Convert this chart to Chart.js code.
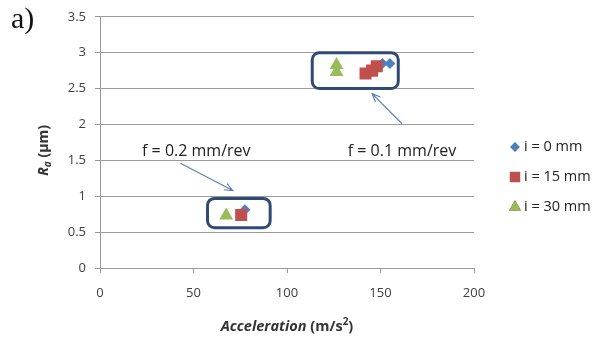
<!DOCTYPE html>
<html>
<head>
<meta charset="utf-8">
<script src="https://cdn.jsdelivr.net/npm/chart.js@4/dist/chart.umd.min.js"></script>
<style>
  html, body { margin: 0; padding: 0; background: #fff; }
  #wrap { width: 593px; height: 339px; position: relative; }
</style>
</head>
<body>
<div id="wrap"><canvas id="chart"></canvas></div>
<script>
// series values (acceleration m/s², Ra µm)
const seriesNames = ["i = 0 mm", "i = 15 mm", "i = 30 mm"];
const accel0 = [77.5, 151, 155];
const ra0 = [0.81, 2.85, 2.85];
const accel15 = [75.5, 142, 145.5, 148];
const ra15 = [0.74, 2.71, 2.75, 2.81];
const accel30 = [67.5, 126.5, 126.5];
const ra30 = [0.73, 2.83, 2.73];
const xTicks = [0, 50, 100, 150, 200];
const yTicks = [0, 0.5, 1, 1.5, 2, 2.5, 3, 3.5];

const FONT = "'Open Sans', 'Noto Sans', sans-serif";
const colors = ["#4f81bd", "#c0504d", "#9bbb59"];
const styles = ["rectRot", "rect", "triangle"];
const radii = [5.5, 8.5, 8];

function pts(xs, ys) { return xs.map((x, i) => ({ x: x, y: ys[i] })); }

// annotation boxes and arrows, in data units
const boxes = [
  { x0: 113.5, x1: 159.5, y0: 3.0, y1: 2.5 },
  { x0: 57.5, x1: 91, y0: 0.97, y1: 0.56 }
];
const notes = [
  { text: "f = 0.2 mm/rev", x: 51.5, y: 1.63, ax0: 43, ay0: 1.46, ax1: 71, ay1: 1.08 },
  { text: "f = 0.1 mm/rev", x: 161.5, y: 1.63, ax0: 161.5, ay0: 2.01, ax1: 145.5, ay1: 2.43 }
];

const annot = {
  id: "annot",
  afterDatasetsDraw(chart) {
    const ctx = chart.ctx, xs = chart.scales.x, ys = chart.scales.y;
    ctx.save();
    // rounded boxes
    ctx.strokeStyle = "#2f4b73";
    ctx.lineWidth = 3;
    boxes.forEach(b => {
      const l = xs.getPixelForValue(b.x0), r = xs.getPixelForValue(b.x1);
      const t = ys.getPixelForValue(b.y0), btm = ys.getPixelForValue(b.y1);
      ctx.beginPath();
      ctx.roundRect(l, t, r - l, btm - t, 7);
      ctx.stroke();
    });
    // labels + arrows
    notes.forEach(n => {
      ctx.fillStyle = "#222";
      ctx.font = "16px " + FONT;
      ctx.textAlign = "center";
      ctx.textBaseline = "middle";
      ctx.fillText(n.text, xs.getPixelForValue(n.x), ys.getPixelForValue(n.y));
      const x0 = xs.getPixelForValue(n.ax0), y0 = ys.getPixelForValue(n.ay0);
      const x1 = xs.getPixelForValue(n.ax1), y1 = ys.getPixelForValue(n.ay1);
      ctx.strokeStyle = "#5b82b8";
      ctx.lineWidth = 1.2;
      ctx.beginPath();
      ctx.moveTo(x0, y0); ctx.lineTo(x1, y1);
      const a = Math.atan2(y1 - y0, x1 - x0), h = 9;
      ctx.moveTo(x1 - h * Math.cos(a - 0.4), y1 - h * Math.sin(a - 0.4));
      ctx.lineTo(x1, y1);
      ctx.lineTo(x1 - h * Math.cos(a + 0.4), y1 - h * Math.sin(a + 0.4));
      ctx.stroke();
    });
    ctx.restore();
  },
  afterDraw(chart) {
    const ctx = chart.ctx, area = chart.chartArea;
    ctx.save();
    // panel letter
    ctx.fillStyle = "#111";
    ctx.font = "30px 'Liberation Serif', serif";
    ctx.textAlign = "left";
    ctx.textBaseline = "alphabetic";
    ctx.fillText("a)", 11, 28);

    // y title: R_a (µm)
    ctx.save();
    ctx.translate(44, (area.top + area.bottom) / 2 + 8);
    ctx.rotate(-Math.PI / 2);
    ctx.fillStyle = "#333";
    ctx.textBaseline = "middle";
    ctx.font = "italic bold 14px " + FONT;
    const w1 = ctx.measureText("R").width;
    ctx.font = "italic bold 10px " + FONT;
    const w2 = ctx.measureText("a").width;
    ctx.font = "bold 14px " + FONT;
    const w3 = ctx.measureText(" (\u00b5m)").width;
    let x = -(w1 + w2 + w3) / 2;
    ctx.font = "italic bold 14px " + FONT;
    ctx.fillText("R", x, 0); x += w1;
    ctx.font = "italic bold 10px " + FONT;
    ctx.fillText("a", x, 4); x += w2;
    ctx.font = "bold 14px " + FONT;
    ctx.fillText(" (\u00b5m)", x, 0);
    ctx.restore();

    // x title: Acceleration (m/s²)
    ctx.fillStyle = "#333";
    ctx.textBaseline = "middle";
    ctx.font = "italic bold 14.5px " + FONT;
    const t1 = ctx.measureText("Acceleration").width;
    ctx.font = "bold 14.5px " + FONT;
    const t2 = ctx.measureText(" (m/s").width;
    ctx.font = "bold 10px " + FONT;
    const t3 = ctx.measureText("2").width;
    ctx.font = "bold 14.5px " + FONT;
    const t4 = ctx.measureText(")").width;
    let xx = (area.left + area.right) / 2 - (t1 + t2 + t3 + t4) / 2;
    const yy = 327;
    ctx.font = "italic bold 14.5px " + FONT;
    ctx.fillText("Acceleration", xx, yy); xx += t1;
    ctx.font = "bold 14.5px " + FONT;
    ctx.fillText(" (m/s", xx, yy); xx += t2;
    ctx.font = "bold 10px " + FONT;
    ctx.fillText("2", xx, yy - 5); xx += t3;
    ctx.font = "bold 14.5px " + FONT;
    ctx.fillText(")", xx, yy);

    // legend
    chart.data.datasets.forEach((ds, i) => {
      const ly = 147 + i * 30;
      Chart.helpers.drawPoint(ctx, {
        pointStyle: ds.pointStyle, radius: ds.pointRadius * 0.85, borderWidth: 0
      }, 515, ly);
      ctx.fillStyle = ds.backgroundColor;
      ctx.fill();
      ctx.fillStyle = "#222";
      ctx.font = "14.5px " + FONT;
      ctx.textAlign = "left";
      ctx.fillText(ds.label, 524, ly);
    });
    ctx.restore();
  }
};

const datasets = [pts(accel0, ra0), pts(accel15, ra15), pts(accel30, ra30)].map((d, i) => ({
  label: seriesNames[i],
  data: d,
  pointStyle: styles[i],
  pointRadius: radii[i],
  pointHoverRadius: radii[i],
  backgroundColor: colors[i],
  borderColor: colors[i],
  borderWidth: 0,
  order: 3 - i
}));

new Chart(document.getElementById("chart"), {
  type: "scatter",
  data: { datasets: datasets },
  options: {
    responsive: true,
    maintainAspectRatio: false,
    animation: false,
    layout: { padding: { left: 0, right: 119, top: 16, bottom: 0 } },
    plugins: { legend: { display: false }, tooltip: { enabled: false } },
    scales: {
      x: {
        type: "linear",
        min: 0, max: 200,
        afterBuildTicks: s => { s.ticks = xTicks.map(v => ({ value: v })); },
        afterFit: s => { s.height = 71; },
        grid: { drawOnChartArea: false, tickLength: 5, color: "#9a9a9a" },
        border: { color: "#9a9a9a" },
        ticks: { padding: 12, color: "#404040", font: { family: FONT, size: 13 } }
      },
      y: {
        type: "linear",
        min: 0, max: 3.5,
        afterBuildTicks: s => { s.ticks = yTicks.map(v => ({ value: v })); },
        afterFit: s => { s.width = 100; },
        grid: { tickLength: 5, color: "#9a9a9a" },
        border: { color: "#9a9a9a" },
        ticks: {
          padding: 9, color: "#404040", font: { family: FONT, size: 13 },
          callback: v => String(v)
        }
      }
    }
  },
  plugins: [annot]
});
</script>
</body>
</html>
